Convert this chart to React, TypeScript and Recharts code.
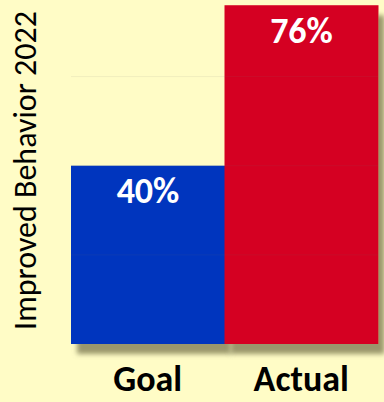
import {Bar, BarChart, Cell, LabelList, ReferenceLine, XAxis, YAxis} from "recharts";

const categories = ["Goal", "Actual"];
const values = [40, 76];
const barColors = ["#0035BE", "#D50024"];
const gridValues = [20, 40, 60];

const data = categories.map((name, i) => ({name, value: values[i]}));

const FONT = "Carlito, 'Open Sans', 'Noto Sans', sans-serif";

function ShadowBar(props: any) {
  const {x, y, width, height, fill} = props;
  return <rect x={x} y={y} width={width} height={height} fill={fill} filter="url(#barShadow)"/>;
}

function YLabel(props: any) {
  const vb = props.viewBox || {};
  const cy = vb.y + vb.height / 2 - 3;
  return (
    <text
      x={25}
      y={cy}
      transform={`rotate(-90 25 ${cy})`}
      textAnchor="middle"
      dominantBaseline="central"
      fontFamily={FONT}
      fontSize={32}
      fill="#000"
    >
      Improved Behavior 2022
    </text>
  );
}

export default function App() {
  return (
    <div style={{position: "absolute", left: 0, top: 0, width: 384, height: 402, background: "#FFFCC6"}}>
      <svg width={0} height={0} style={{position: "absolute"}}>
        <defs>
          <filter id="barShadow" x="-10%" y="-10%" width="130%" height="130%">
            <feDropShadow dx={6} dy={10} stdDeviation={2.5} floodColor="#8F8B62" floodOpacity={0.9}/>
          </filter>
        </defs>
      </svg>
      <BarChart
        width={384}
        height={402}
        data={data}
        margin={{top: 3, right: 6, bottom: 0, left: 0}}
        barCategoryGap={0}
      >
        <XAxis
          dataKey="name"
          axisLine={false}
          tickLine={false}
          height={58}
          tick={{fontSize: 36, fontWeight: 700, fill: "#000", fontFamily: FONT}}
          dy={13}
        />
        <YAxis
          domain={[0, 76.5]}
          ticks={[0, 20, 40, 60]}
          tick={false}
          axisLine={false}
          tickLine={false}
          width={71}
          label={<YLabel/>}
        />
        <Bar dataKey="value" isAnimationActive={false} shape={<ShadowBar/>}>
          {data.map((d, i) => (
            <Cell key={d.name} fill={barColors[i]}/>
          ))}
          <LabelList
            dataKey="value"
            position="insideTop"
            offset={12}
            formatter={(v: any) => `${v}%`}
            fill="#fff"
            fontSize={36}
            fontWeight={700}
            fontFamily={FONT}
          />
        </Bar>
        {gridValues.map(g => (
          <ReferenceLine key={g} y={g} stroke="#7a7a7a" strokeOpacity={0.1} strokeWidth={1}/>
        ))}
      </BarChart>
    </div>
  );
}
